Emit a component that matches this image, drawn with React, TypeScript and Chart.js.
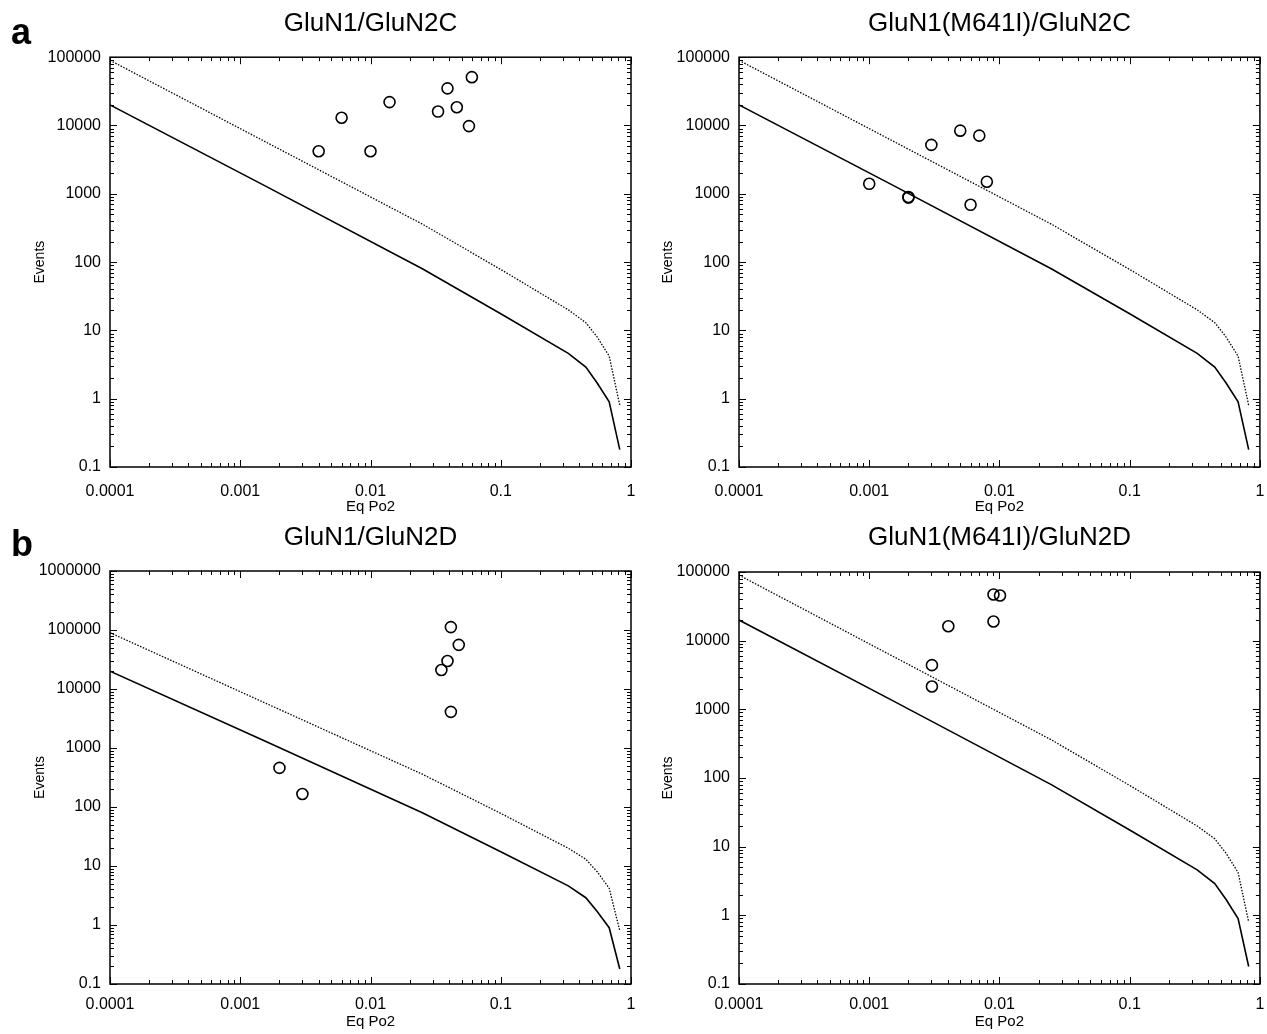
import React, { useEffect, useRef } from 'react';
import { Chart, registerables } from 'chart.js';
Chart.register(...registerables);

const FONT = "'Liberation Sans', Arial, sans-serif";

// Model curves (shared by all panels)
const curveX = [0.0001, 0.0015, 0.025, 0.1, 0.33, 0.45, 0.55, 0.68, 0.82];
const solidY = [20000, 1350, 80, 17.5, 4.6, 2.9, 1.7, 0.9, 0.18];
const dottedY = [90000, 6000, 360, 78, 20, 13, 8, 4.2, 0.8];

// Tick values
const xTickValues = [0.0001, 0.001, 0.01, 0.1, 1];
const yTicks6 = [0.1, 1, 10, 100, 1000, 10000, 100000];
const yTicks7 = [0.1, 1, 10, 100, 1000, 10000, 100000, 1000000];

// Observed points
const aLeftX = [0.004, 0.006, 0.01, 0.014, 0.033, 0.039, 0.046, 0.057, 0.06];
const aLeftY = [4200, 13000, 4200, 22000, 16000, 35000, 18500, 9800, 51000];

const aRightX = [0.001, 0.002, 0.002, 0.003, 0.005, 0.007, 0.006, 0.008];
const aRightY = [1400, 900, 880, 5200, 8400, 7100, 690, 1500];

const bLeftX = [0.002, 0.003, 0.035, 0.039, 0.0414, 0.0476, 0.0414];
const bLeftY = [460, 166, 21000, 29800, 112000, 56000, 4100];

const bRightX = [0.009, 0.0101, 0.009, 0.00405, 0.00303, 0.00303];
const bRightY = [47000, 45500, 19000, 16200, 4400, 2150];

const frameTicks = {
  id: 'frameTicks',
  afterDraw(chart: any) {
    const { ctx, chartArea } = chart;
    const { left, right, top, bottom } = chartArea;
    const xs = chart.scales.x;
    const ys = chart.scales.y;
    ctx.save();
    ctx.strokeStyle = '#000';
    ctx.lineWidth = 1;
    const drawAxis = (scale: any, horizontal: boolean) => {
      const e0 = Math.floor(Math.log10(scale.min) + 1e-9);
      const e1 = Math.ceil(Math.log10(scale.max) - 1e-9);
      for (let e = e0; e <= e1; e++) {
        for (let m = 1; m <= 9; m++) {
          const v = m * Math.pow(10, e);
          if (v < scale.min * 0.999 || v > scale.max * 1.001) continue;
          const p = Math.round(scale.getPixelForValue(v)) + 0.5;
          const len = m === 1 ? 7 : 4;
          ctx.beginPath();
          if (horizontal) {
            ctx.moveTo(p, bottom); ctx.lineTo(p, bottom - len);
            ctx.moveTo(p, top); ctx.lineTo(p, top + len);
          } else {
            ctx.moveTo(left, p); ctx.lineTo(left + len, p);
            ctx.moveTo(right, p); ctx.lineTo(right - len, p);
          }
          ctx.stroke();
        }
      }
    };
    drawAxis(xs, true);
    drawAxis(ys, false);
    ctx.lineWidth = 1.5;
    ctx.strokeRect(left, top, right - left, bottom - top);
    ctx.restore();
  },
};

type PanelProps = {
  title: string;
  left: number; top: number; width: number; height: number;
  yAxisWidth: number; padRight: number;
  titlePadTop: number; titlePadBottom: number;
  xAxisHeight: number; xTickPad: number; xTitlePadBottom: number;
  yTitlePadTop: number;
  yMax: number; yTicks: number[];
  px: number[]; py: number[];
};

function Panel(p: PanelProps) {
  const ref = useRef<HTMLCanvasElement>(null);
  useEffect(() => {
    if (!ref.current) return;
    const solid = curveX.map((x, i) => ({ x, y: solidY[i] }));
    const dotted = curveX.map((x, i) => ({ x, y: dottedY[i] }));
    const pts = p.px.map((x, i) => ({ x, y: p.py[i] }));
    const tickFont = { family: FONT, size: 16 };
    const chart = new Chart(ref.current, {
      type: 'scatter',
      data: {
        datasets: [
          { data: solid, showLine: true, borderColor: '#000', borderWidth: 1.6, pointRadius: 0, tension: 0 },
          { data: dotted, showLine: true, borderColor: '#000', borderWidth: 1.3, borderDash: [1.5, 1.5], pointRadius: 0, tension: 0 },
          { data: pts, showLine: false, pointRadius: 5.5, pointBorderWidth: 1.6, pointBorderColor: '#000', pointBackgroundColor: 'rgba(0,0,0,0)' },
        ],
      } as any,
      options: {
        animation: false,
        responsive: false,
        devicePixelRatio: 1,
        layout: { padding: { left: 0, right: p.padRight, top: 0, bottom: 0 } },
        plugins: {
          legend: { display: false },
          tooltip: { enabled: false },
          title: {
            display: true, fullSize: false, text: p.title, color: '#000',
            font: { family: FONT, size: 26, weight: 'normal', lineHeight: 1.2 },
            padding: { top: p.titlePadTop, bottom: p.titlePadBottom },
          },
        },
        scales: {
          x: {
            type: 'logarithmic', min: 0.0001, max: 1,
            afterBuildTicks: (s: any) => { s.ticks = xTickValues.map((v) => ({ value: v })); },
            afterFit: (s: any) => { s.height = p.xAxisHeight; s.paddingLeft = 0; s.paddingRight = 0; },
            grid: { display: false, drawTicks: false },
            border: { display: false },
            ticks: { callback: (v: any) => String(v), font: tickFont, color: '#000', padding: p.xTickPad, maxRotation: 0, autoSkip: false },
            title: { display: true, text: 'Eq Po2', color: '#000', font: { family: FONT, size: 15 }, padding: { top: 0, bottom: p.xTitlePadBottom } },
          },
          y: {
            type: 'logarithmic', min: 0.1, max: p.yMax,
            afterBuildTicks: (s: any) => { s.ticks = p.yTicks.map((v) => ({ value: v })); },
            afterFit: (s: any) => { s.width = p.yAxisWidth; s.paddingTop = 0; s.paddingBottom = 0; },
            grid: { display: false, drawTicks: false },
            border: { display: false },
            ticks: { callback: (v: any) => String(v), font: tickFont, color: '#000', padding: 9, autoSkip: false },
            title: { display: true, text: 'Events', color: '#000', font: { family: FONT, size: 14 }, padding: { top: p.yTitlePadTop, bottom: 0 } },
          },
        },
      } as any,
      plugins: [frameTicks],
    });
    return () => chart.destroy();
  }, []);
  return (
    <div style={{ position: 'absolute', left: p.left, top: p.top, width: p.width, height: p.height }}>
      <canvas ref={ref} width={p.width} height={p.height} style={{ display: 'block' }} />
    </div>
  );
}

export default function App() {
  const letter: React.CSSProperties = {
    position: 'absolute', fontFamily: FONT, fontWeight: 'bold', fontSize: 36, lineHeight: '36px', color: '#000',
  };
  return (
    <div style={{ position: 'absolute', left: 0, top: 0, width: 1267, height: 1034, background: '#fff', overflow: 'hidden' }}>
      <Panel title="GluN1/GluN2C" left={0} top={0} width={640} height={514}
        yAxisWidth={110} padRight={9} titlePadTop={8} titlePadBottom={18}
        xAxisHeight={47} xTickPad={15} xTitlePadBottom={-2} yTitlePadTop={32}
        yMax={100000} yTicks={yTicks6} px={aLeftX} py={aLeftY} />
      <Panel title="GluN1(M641I)/GluN2C" left={640} top={0} width={627} height={514}
        yAxisWidth={99} padRight={7} titlePadTop={8} titlePadBottom={18}
        xAxisHeight={47} xTickPad={15} xTitlePadBottom={-2} yTitlePadTop={20}
        yMax={100000} yTicks={yTicks6} px={aRightX} py={aRightY} />
      <Panel title="GluN1/GluN2D" left={0} top={512} width={640} height={522}
        yAxisWidth={110} padRight={9} titlePadTop={10} titlePadBottom={17.8}
        xAxisHeight={50} xTickPad={11} xTitlePadBottom={3} yTitlePadTop={32}
        yMax={1000000} yTicks={yTicks7} px={bLeftX} py={bLeftY} />
      <Panel title="GluN1(M641I)/GluN2D" left={640} top={512} width={627} height={522}
        yAxisWidth={99} padRight={7} titlePadTop={10} titlePadBottom={18.8}
        xAxisHeight={50} xTickPad={11} xTitlePadBottom={3} yTitlePadTop={20}
        yMax={100000} yTicks={yTicks6} px={bRightX} py={bRightY} />
      <div style={{ ...letter, left: 11, top: 14 }}>a</div>
      <div style={{ ...letter, left: 11, top: 526 }}>b</div>
    </div>
  );
}
